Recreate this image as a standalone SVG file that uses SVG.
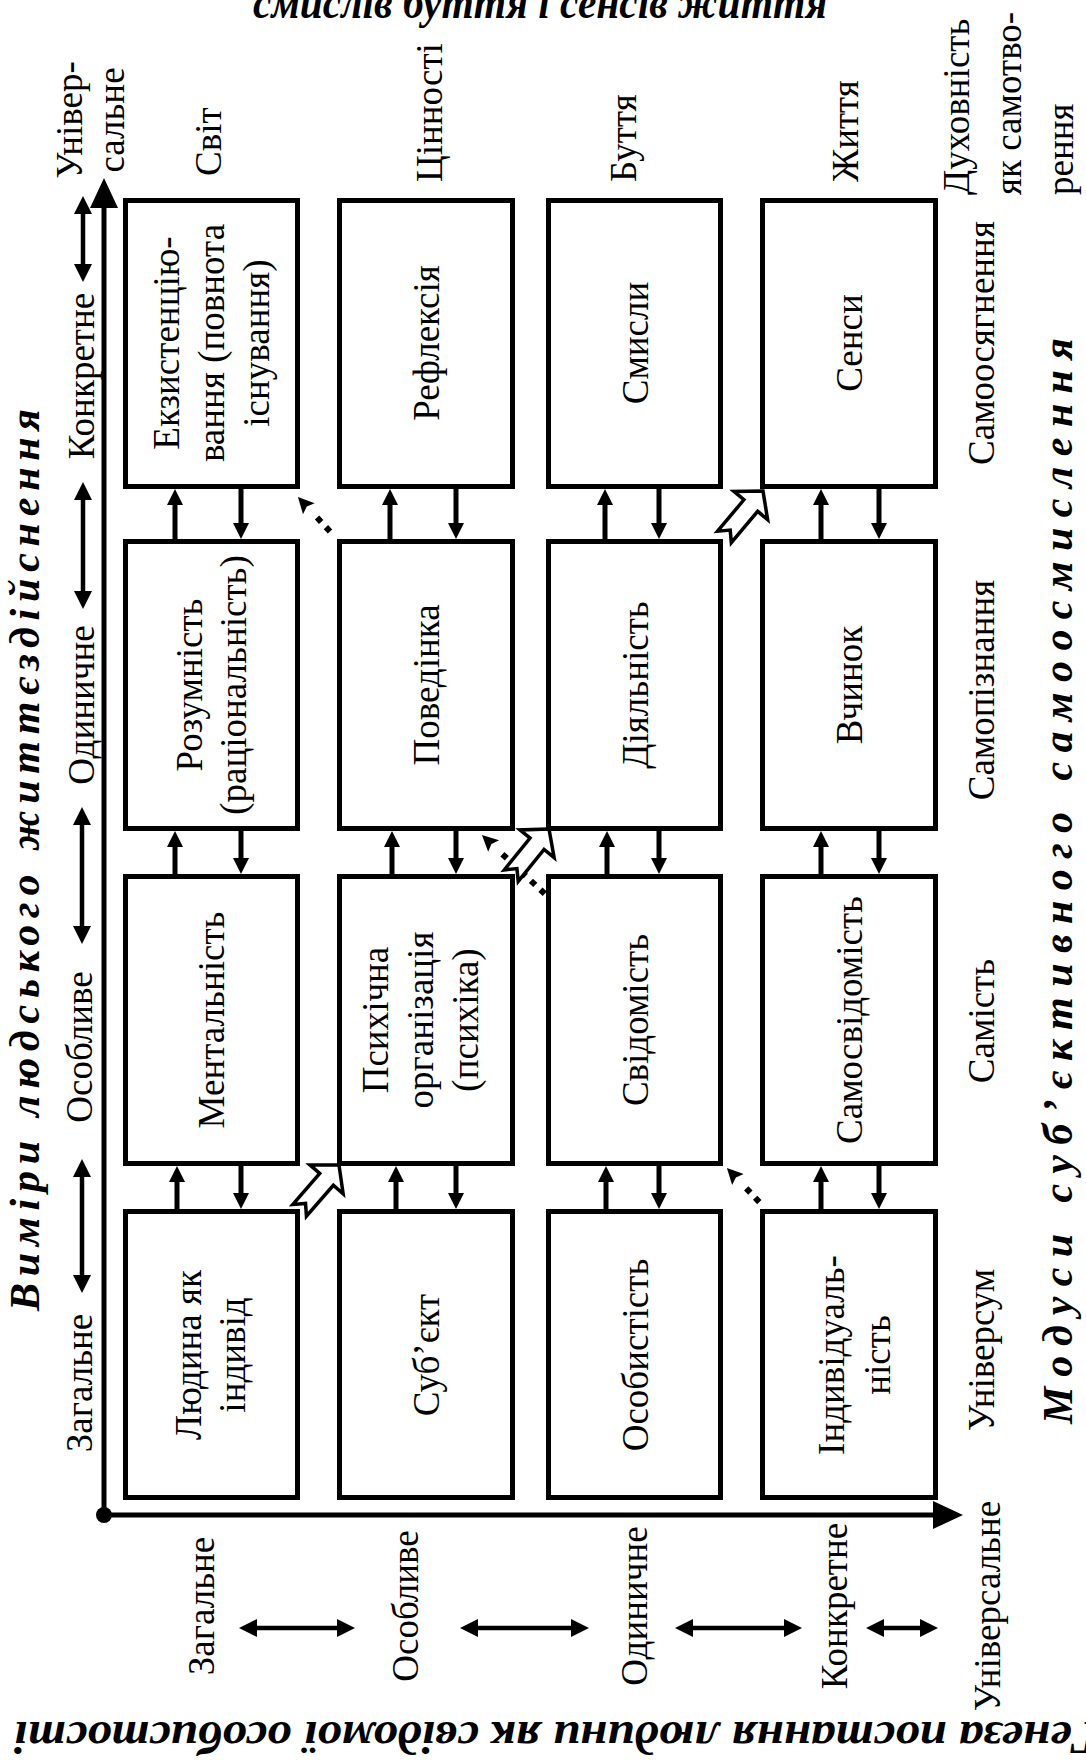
<svg xmlns="http://www.w3.org/2000/svg" width="1086" height="1764" viewBox="0 0 1086 1764">
<style>
.box{fill:#fff;stroke:#000;stroke-width:5}
.t{font-family:"Liberation Serif","Times New Roman",serif;font-size:37px;fill:#000}
.big{font-family:"Liberation Serif","Times New Roman",serif;font-weight:bold;font-style:italic;fill:#000}
.ln{stroke:#000;stroke-width:5;fill:none}
.dbl{stroke:#000;stroke-width:4.5;fill:none}
.dot{stroke:#000;stroke-width:6;stroke-dasharray:6 7;fill:none}
.hollow{fill:#fff;stroke:#000;stroke-width:3.5;stroke-linejoin:miter}
</style>
<defs>
<marker id="ah" viewBox="0 0 16 16" refX="6" refY="8" markerWidth="16" markerHeight="16" markerUnits="userSpaceOnUse" orient="auto"><path d="M0,0 L16,8 L0,16 z" fill="#000"/></marker>
<marker id="dh" viewBox="0 0 28 16" refX="0" refY="8" markerWidth="28" markerHeight="16" markerUnits="userSpaceOnUse" orient="auto"><path d="M12,0 L28,8 L12,16 L15,8 z" fill="#000"/></marker>
<marker id="d2" viewBox="0 0 18 18" refX="8" refY="9" markerWidth="18" markerHeight="18" markerUnits="userSpaceOnUse" orient="auto-start-reverse"><path d="M0,0 L18,9 L0,18 z" fill="#000"/></marker>
<marker id="ax" viewBox="0 0 30 28" refX="10" refY="14" markerWidth="30" markerHeight="28" markerUnits="userSpaceOnUse" orient="auto"><path d="M0,0 L30,14 L0,28 z" fill="#000"/></marker>
<polygon id="hollow" points="0,0 -19,-22 -19,-9 -60,-9 -51,0 -60,9 -19,9 -19,22"/>
</defs>
<rect width="1086" height="1764" fill="#fff"/>

<!-- titles -->
<g id="titles">
<text class="big" x="540" y="18" font-size="46" text-anchor="middle" textLength="574" lengthAdjust="spacingAndGlyphs">смислів буття і сенсів життя</text>
<text class="big" font-size="42" transform="translate(25,860) rotate(-90)" text-anchor="middle" dominant-baseline="central" textLength="902" lengthAdjust="spacing">Виміри людського життєздійснення</text>
<text class="big" font-size="42" transform="translate(1058,881) rotate(-90)" text-anchor="middle" dominant-baseline="central" textLength="1086" lengthAdjust="spacing">Модуси суб’єктивного самоосмислення</text>
<text class="big" font-size="46" transform="translate(557,1722) rotate(180)" text-anchor="middle" textLength="1086" lengthAdjust="spacingAndGlyphs">Генеза постання людини як свідомої особистості</text>
</g>

<!-- axis labels -->
<g id="axis-labels" class="t" text-anchor="middle" dominant-baseline="central">
<text transform="translate(90,120) rotate(-90)"><tspan x="0" y="-21">Універ-</tspan><tspan x="0" y="21">сальне</tspan></text>
<text transform="translate(81,376) rotate(-90)">Конкретне</text>
<text transform="translate(81,705) rotate(-90)">Одиничне</text>
<text transform="translate(79,1047) rotate(-90)">Особливе</text>
<text transform="translate(79,1383) rotate(-90)">Загальне</text>
<text transform="translate(208,176) rotate(-90)" text-anchor="start">Світ</text>
<text transform="translate(429,182) rotate(-90)" text-anchor="start">Цінності</text>
<text transform="translate(623,182) rotate(-90)" text-anchor="start">Буття</text>
<text transform="translate(845,182) rotate(-90)" text-anchor="start">Життя</text>
<text transform="translate(1008,195) rotate(-90)" text-anchor="start"><tspan x="0" y="-52">Духовність</tspan><tspan x="0" y="0">як самотво-</tspan><tspan x="0" y="52">рення</tspan></text>
<text transform="translate(981,343) rotate(-90)">Самоосягнення</text>
<text transform="translate(981,690) rotate(-90)">Самопізнання</text>
<text transform="translate(981,1021) rotate(-90)">Самість</text>
<text transform="translate(981,1350) rotate(-90)">Універсум</text>
<text transform="translate(201,1606) rotate(-90)">Загальне</text>
<text transform="translate(405,1606) rotate(-90)">Особливе</text>
<text transform="translate(634,1606) rotate(-90)">Одиничне</text>
<text transform="translate(834,1606) rotate(-90)">Конкретне</text>
<text transform="translate(987,1606) rotate(-90)">Універсальне</text>
</g>

<!-- nodes -->
<g id="n-ekz"><rect class="box" x="125.5" y="200.5" width="172" height="286"/><text class="t" transform="translate(211,343) rotate(-90)" text-anchor="middle" dominant-baseline="central"><tspan x="0" y="-45">Екзистенцію-</tspan><tspan x="0" y="0">вання (повнота</tspan><tspan x="0" y="45">існування)</tspan></text></g>
<g id="n-refl"><rect class="box" x="339.5" y="200.5" width="173" height="286"/><text class="t" transform="translate(426,343) rotate(-90)" text-anchor="middle" dominant-baseline="central">Рефлексія</text></g>
<g id="n-smysly"><rect class="box" x="548.5" y="200.5" width="172" height="286"/><text class="t" transform="translate(635,343) rotate(-90)" text-anchor="middle" dominant-baseline="central">Смисли</text></g>
<g id="n-sensy"><rect class="box" x="762.5" y="200.5" width="173" height="286"/><text class="t" transform="translate(849,343) rotate(-90)" text-anchor="middle" dominant-baseline="central">Сенси</text></g>

<g id="n-rozum"><rect class="box" x="125.5" y="541.5" width="172" height="287"/><text class="t" transform="translate(211,685) rotate(-90)" text-anchor="middle" dominant-baseline="central"><tspan x="0" y="-22">Розумність</tspan><tspan x="0" y="22">(раціональність)</tspan></text></g>
<g id="n-poved"><rect class="box" x="339.5" y="541.5" width="173" height="287"/><text class="t" transform="translate(426,685) rotate(-90)" text-anchor="middle" dominant-baseline="central">Поведінка</text></g>
<g id="n-diyal"><rect class="box" x="548.5" y="541.5" width="172" height="287"/><text class="t" transform="translate(635,685) rotate(-90)" text-anchor="middle" dominant-baseline="central">Діяльність</text></g>
<g id="n-vchynok"><rect class="box" x="762.5" y="541.5" width="173" height="287"/><text class="t" transform="translate(849,685) rotate(-90)" text-anchor="middle" dominant-baseline="central">Вчинок</text></g>

<g id="n-mental"><rect class="box" x="125.5" y="876.5" width="172" height="287"/><text class="t" transform="translate(211,1020) rotate(-90)" text-anchor="middle" dominant-baseline="central">Ментальність</text></g>
<g id="n-psych"><rect class="box" x="339.5" y="876.5" width="173" height="287"/><text class="t" transform="translate(420,1020) rotate(-90)" text-anchor="middle" dominant-baseline="central"><tspan x="0" y="-45">Психічна</tspan><tspan x="0" y="0">організація</tspan><tspan x="0" y="45">(психіка)</tspan></text></g>
<g id="n-svid"><rect class="box" x="548.5" y="876.5" width="172" height="287"/><text class="t" transform="translate(635,1020) rotate(-90)" text-anchor="middle" dominant-baseline="central">Свідомість</text></g>
<g id="n-samosvid"><rect class="box" x="762.5" y="876.5" width="173" height="287"/><text class="t" transform="translate(849,1020) rotate(-90)" text-anchor="middle" dominant-baseline="central">Самосвідомість</text></g>

<g id="n-lyudyna"><rect class="box" x="125.5" y="1211.5" width="172" height="286"/><text class="t" transform="translate(210,1355) rotate(-90)" text-anchor="middle" dominant-baseline="central"><tspan x="0" y="-22">Людина як</tspan><tspan x="0" y="22">індивід</tspan></text></g>
<g id="n-subyekt"><rect class="box" x="339.5" y="1211.5" width="173" height="286"/><text class="t" transform="translate(426,1355) rotate(-90)" text-anchor="middle" dominant-baseline="central">Суб’єкт</text></g>
<g id="n-osob"><rect class="box" x="548.5" y="1211.5" width="172" height="286"/><text class="t" transform="translate(635,1355) rotate(-90)" text-anchor="middle" dominant-baseline="central">Особистість</text></g>
<g id="n-indyv"><rect class="box" x="762.5" y="1211.5" width="173" height="286"/><text class="t" transform="translate(854,1355) rotate(-90)" text-anchor="middle" dominant-baseline="central"><tspan x="0" y="-23">Індивідуаль-</tspan><tspan x="0" y="23">ність</tspan></text></g>

<!-- connectors -->
<g id="connectors">
<line class="ln" x1="104" y1="1515" x2="104" y2="198" marker-end="url(#ax)"/>
<line class="ln" x1="104" y1="1515" x2="943" y2="1515" marker-end="url(#ax)"/>
<circle cx="104" cy="1515" r="8" fill="#000"/>
<line class="dbl" x1="83" y1="206" x2="83" y2="272" marker-start="url(#d2)" marker-end="url(#d2)"/>
<line class="dbl" x1="83" y1="492" x2="83" y2="599" marker-start="url(#d2)" marker-end="url(#d2)"/>
<line class="dbl" x1="82" y1="817" x2="82" y2="934" marker-start="url(#d2)" marker-end="url(#d2)"/>
<line class="dbl" x1="82" y1="1169" x2="82" y2="1283" marker-start="url(#d2)" marker-end="url(#d2)"/>
<line class="dbl" x1="249" y1="1628" x2="345" y2="1628" marker-start="url(#d2)" marker-end="url(#d2)"/>
<line class="dbl" x1="470" y1="1628" x2="579" y2="1628" marker-start="url(#d2)" marker-end="url(#d2)"/>
<line class="dbl" x1="685" y1="1628" x2="792" y2="1628" marker-start="url(#d2)" marker-end="url(#d2)"/>
<line class="dbl" x1="876" y1="1628" x2="928" y2="1628" marker-start="url(#d2)" marker-end="url(#d2)"/>
<line class="ln" x1="175" y1="540" x2="175" y2="499" marker-end="url(#ah)"/>
<line class="ln" x1="241" y1="488" x2="241" y2="529" marker-end="url(#ah)"/>
<line class="ln" x1="390" y1="540" x2="390" y2="499" marker-end="url(#ah)"/>
<line class="ln" x1="456" y1="488" x2="456" y2="529" marker-end="url(#ah)"/>
<line class="ln" x1="605" y1="540" x2="605" y2="499" marker-end="url(#ah)"/>
<line class="ln" x1="659" y1="488" x2="659" y2="529" marker-end="url(#ah)"/>
<line class="ln" x1="821" y1="540" x2="821" y2="499" marker-end="url(#ah)"/>
<line class="ln" x1="879" y1="488" x2="879" y2="529" marker-end="url(#ah)"/>
<line class="ln" x1="175" y1="875" x2="175" y2="841" marker-end="url(#ah)"/>
<line class="ln" x1="241" y1="830" x2="241" y2="864" marker-end="url(#ah)"/>
<line class="ln" x1="392" y1="875" x2="392" y2="841" marker-end="url(#ah)"/>
<line class="ln" x1="456" y1="830" x2="456" y2="864" marker-end="url(#ah)"/>
<line class="ln" x1="607" y1="875" x2="607" y2="841" marker-end="url(#ah)"/>
<line class="ln" x1="659" y1="830" x2="659" y2="864" marker-end="url(#ah)"/>
<line class="ln" x1="821" y1="875" x2="821" y2="841" marker-end="url(#ah)"/>
<line class="ln" x1="879" y1="830" x2="879" y2="864" marker-end="url(#ah)"/>
<line class="ln" x1="177" y1="1210" x2="177" y2="1176" marker-end="url(#ah)"/>
<line class="ln" x1="241" y1="1165" x2="241" y2="1199" marker-end="url(#ah)"/>
<line class="ln" x1="396" y1="1210" x2="396" y2="1176" marker-end="url(#ah)"/>
<line class="ln" x1="456" y1="1165" x2="456" y2="1199" marker-end="url(#ah)"/>
<line class="ln" x1="606" y1="1210" x2="606" y2="1176" marker-end="url(#ah)"/>
<line class="ln" x1="659" y1="1165" x2="659" y2="1199" marker-end="url(#ah)"/>
<line class="ln" x1="821" y1="1210" x2="821" y2="1176" marker-end="url(#ah)"/>
<line class="ln" x1="879" y1="1165" x2="879" y2="1199" marker-end="url(#ah)"/>
<line class="dot" x1="330" y1="531.5" x2="317" y2="517.5" marker-end="url(#dh)"/>
<line class="dot" x1="544.8" y1="893.8" x2="502.4" y2="854.2" marker-end="url(#dh)"/>
<line class="dot" x1="759.3" y1="1202.1" x2="746.2" y2="1188.3" marker-end="url(#dh)"/>
<use href="#hollow" class="hollow" transform="translate(339,1165) rotate(-49)"/>
<use href="#hollow" class="hollow" transform="translate(549,829) rotate(-51)"/>
<use href="#hollow" class="hollow" transform="translate(763,491) rotate(-50)"/>
</g>
</svg>
